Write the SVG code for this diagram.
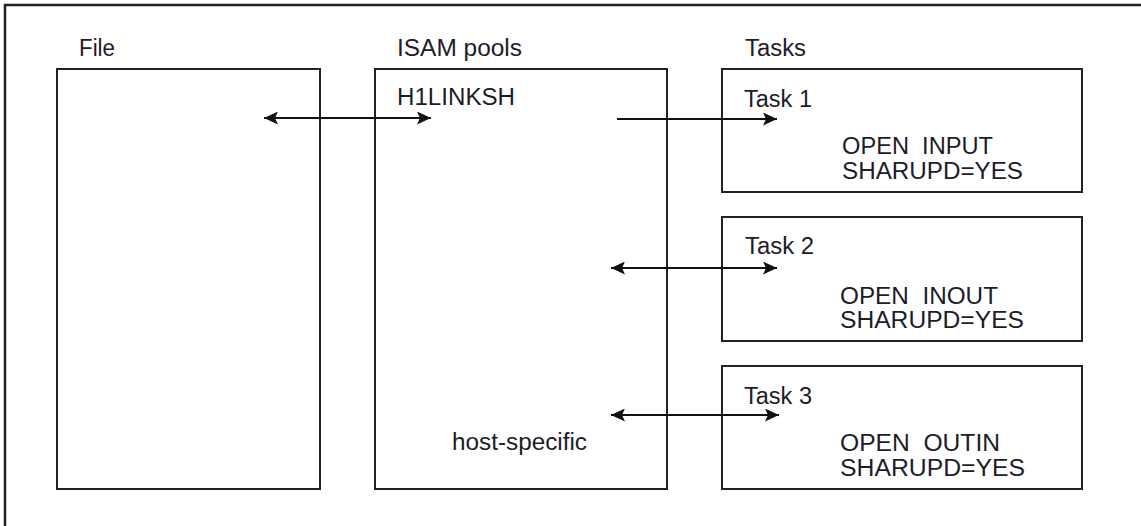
<svg xmlns="http://www.w3.org/2000/svg" width="1141" height="526" viewBox="0 0 1141 526">
  <style>
    .box { fill: none; stroke: #222; stroke-width: 2; }
    .frame { fill: none; stroke: #222; stroke-width: 2.5; }
    .conn { fill: none; stroke: #111; stroke-width: 2; }
    text { font-family: "Liberation Sans", Arial, sans-serif; font-size: 23px; fill: #1c1c2a; }
  </style>
  <defs>
    <marker id="ah" markerUnits="userSpaceOnUse" markerWidth="15" markerHeight="13" refX="14" refY="6.5" orient="auto-start-reverse" viewBox="0 0 15 13">
      <path d="M0,0 L14,6.5 L0,13 L3,6.5 Z" fill="#111"/>
    </marker>
  </defs>
  <rect class="frame" x="5" y="5" width="1200" height="600"/>

  <g id="file">
    <text x="79" y="56" textLength="36" lengthAdjust="spacingAndGlyphs">File</text>
    <rect class="box" x="57" y="69" width="263" height="420"/>
  </g>

  <g id="isam">
    <text x="397" y="56" textLength="125" lengthAdjust="spacingAndGlyphs">ISAM pools</text>
    <rect class="box" x="375" y="69" width="292" height="420"/>
    <text x="397" y="105" textLength="118" lengthAdjust="spacingAndGlyphs">H1LINKSH</text>
    <text x="452" y="450" textLength="135" lengthAdjust="spacingAndGlyphs">host-specific</text>
  </g>

  <g id="tasks-label">
    <text x="745" y="56" textLength="61" lengthAdjust="spacingAndGlyphs">Tasks</text>
  </g>

  <g id="task1">
    <rect class="box" x="722" y="69" width="360" height="123"/>
    <text x="744" y="107" textLength="68" lengthAdjust="spacingAndGlyphs">Task 1</text>
    <text x="842" y="154" textLength="151" lengthAdjust="spacingAndGlyphs">OPEN&#160; INPUT</text>
    <text x="842" y="179" textLength="181" lengthAdjust="spacingAndGlyphs">SHARUPD=YES</text>
  </g>

  <g id="task2">
    <rect class="box" x="722" y="217" width="360" height="124"/>
    <text x="745" y="254" textLength="69" lengthAdjust="spacingAndGlyphs">Task 2</text>
    <text x="840" y="304" textLength="158" lengthAdjust="spacingAndGlyphs">OPEN&#160; INOUT</text>
    <text x="840" y="328" textLength="184" lengthAdjust="spacingAndGlyphs">SHARUPD=YES</text>
  </g>

  <g id="task3">
    <rect class="box" x="722" y="366" width="360" height="123"/>
    <text x="744" y="404" textLength="68" lengthAdjust="spacingAndGlyphs">Task 3</text>
    <text x="840" y="451" textLength="160" lengthAdjust="spacingAndGlyphs">OPEN&#160; OUTIN</text>
    <text x="840" y="476" textLength="185" lengthAdjust="spacingAndGlyphs">SHARUPD=YES</text>
  </g>

  <g id="connectors">
    <line class="conn" x1="264" y1="118" x2="431" y2="118" marker-start="url(#ah)" marker-end="url(#ah)"/>
    <line class="conn" x1="617" y1="119" x2="777" y2="119" marker-end="url(#ah)"/>
    <line class="conn" x1="611" y1="268" x2="777" y2="268" marker-start="url(#ah)" marker-end="url(#ah)"/>
    <line class="conn" x1="611" y1="415" x2="779" y2="415" marker-start="url(#ah)" marker-end="url(#ah)"/>
  </g>
</svg>
